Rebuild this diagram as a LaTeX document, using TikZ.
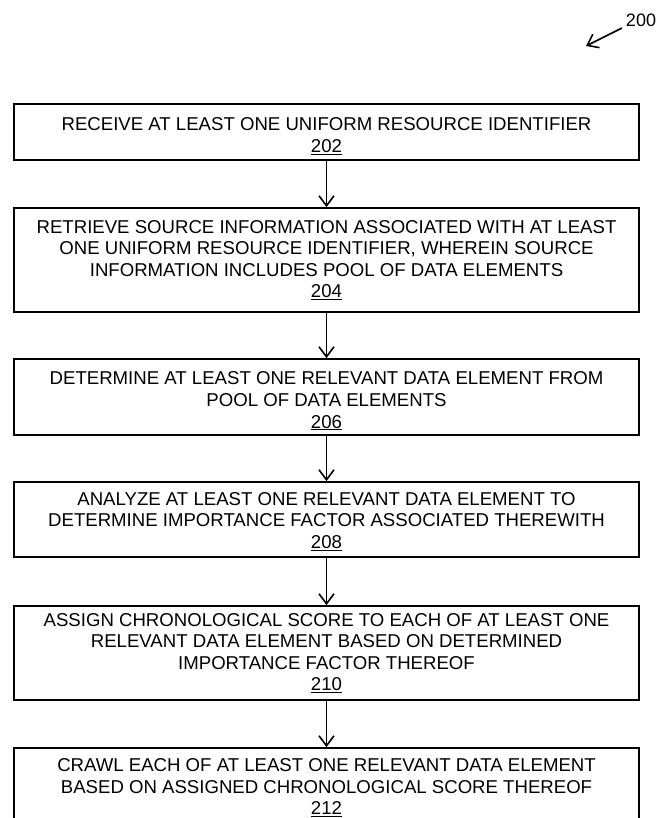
\documentclass[tikz,border=0pt]{standalone}
\usepackage{fontspec}
\setmainfont{Liberation Sans}
\usetikzlibrary{arrows.meta}
\newcommand{\dn}[1]{\rule{0pt}{#1pt}}
\begin{document}
\begin{tikzpicture}[x=1pt,y=-1pt,
  stepbox/.style={draw, line width=1.8pt, rectangle, minimum width=625pt, inner sep=0pt, align=center,
    font=\fontsize{18.6}{21.6}\selectfont},
  arr/.style={line width=1.6pt, -{Straight Barb[length=10pt,width=15pt,line width=1.6pt]}}]
\useasboundingbox (0,0) rectangle (657,818);
\node[stepbox, minimum height=56pt] (b202) at (326.5,132) {\dn{21}RECEIVE AT LEAST ONE UNIFORM RESOURCE IDENTIFIER\\\underline{202}};
\node[stepbox, minimum height=104pt] (b204) at (326.5,260) {RETRIEVE SOURCE INFORMATION ASSOCIATED WITH AT LEAST\\ONE UNIFORM RESOURCE IDENTIFIER, WHEREIN SOURCE\\INFORMATION INCLUDES POOL OF DATA ELEMENTS\\\underline{204}};
\node[stepbox, minimum height=76pt] (b206) at (326.5,397) {\dn{21}DETERMINE AT LEAST ONE RELEVANT DATA ELEMENT FROM\\POOL OF DATA ELEMENTS\\\underline{206}};
\node[stepbox, minimum height=75pt] (b208) at (326.5,519.5) {\dn{17}ANALYZE AT LEAST ONE RELEVANT DATA ELEMENT TO\\DETERMINE IMPORTANCE FACTOR ASSOCIATED THEREWITH\\\underline{208}};
\node[stepbox, minimum height=94pt] (b210) at (326.5,653) {ASSIGN CHRONOLOGICAL SCORE TO EACH OF AT LEAST ONE\\RELEVANT DATA ELEMENT BASED ON DETERMINED\\IMPORTANCE FACTOR THEREOF\\\underline{210}};
\node[stepbox, minimum height=76pt] (b212) at (326.5,786) {\dn{16}CRAWL EACH OF AT LEAST ONE RELEVANT DATA ELEMENT\\BASED ON ASSIGNED CHRONOLOGICAL SCORE THEREOF\\\underline{212}};
\draw[arr] (b202) -- (b204);
\draw[arr] (b204) -- (b206);
\draw[arr] (b206) -- (b208);
\draw[arr] (b208) -- (b210);
\draw[arr] (b210) -- (b212);
\node[font=\fontsize{18}{20}\selectfont, inner sep=0pt] (l200) at (641,20) {200};
\coordinate (s200) at (622,28);
\coordinate (t200) at (586,46);
\draw[arr] (s200) -- (t200);
\end{tikzpicture}
\end{document}
